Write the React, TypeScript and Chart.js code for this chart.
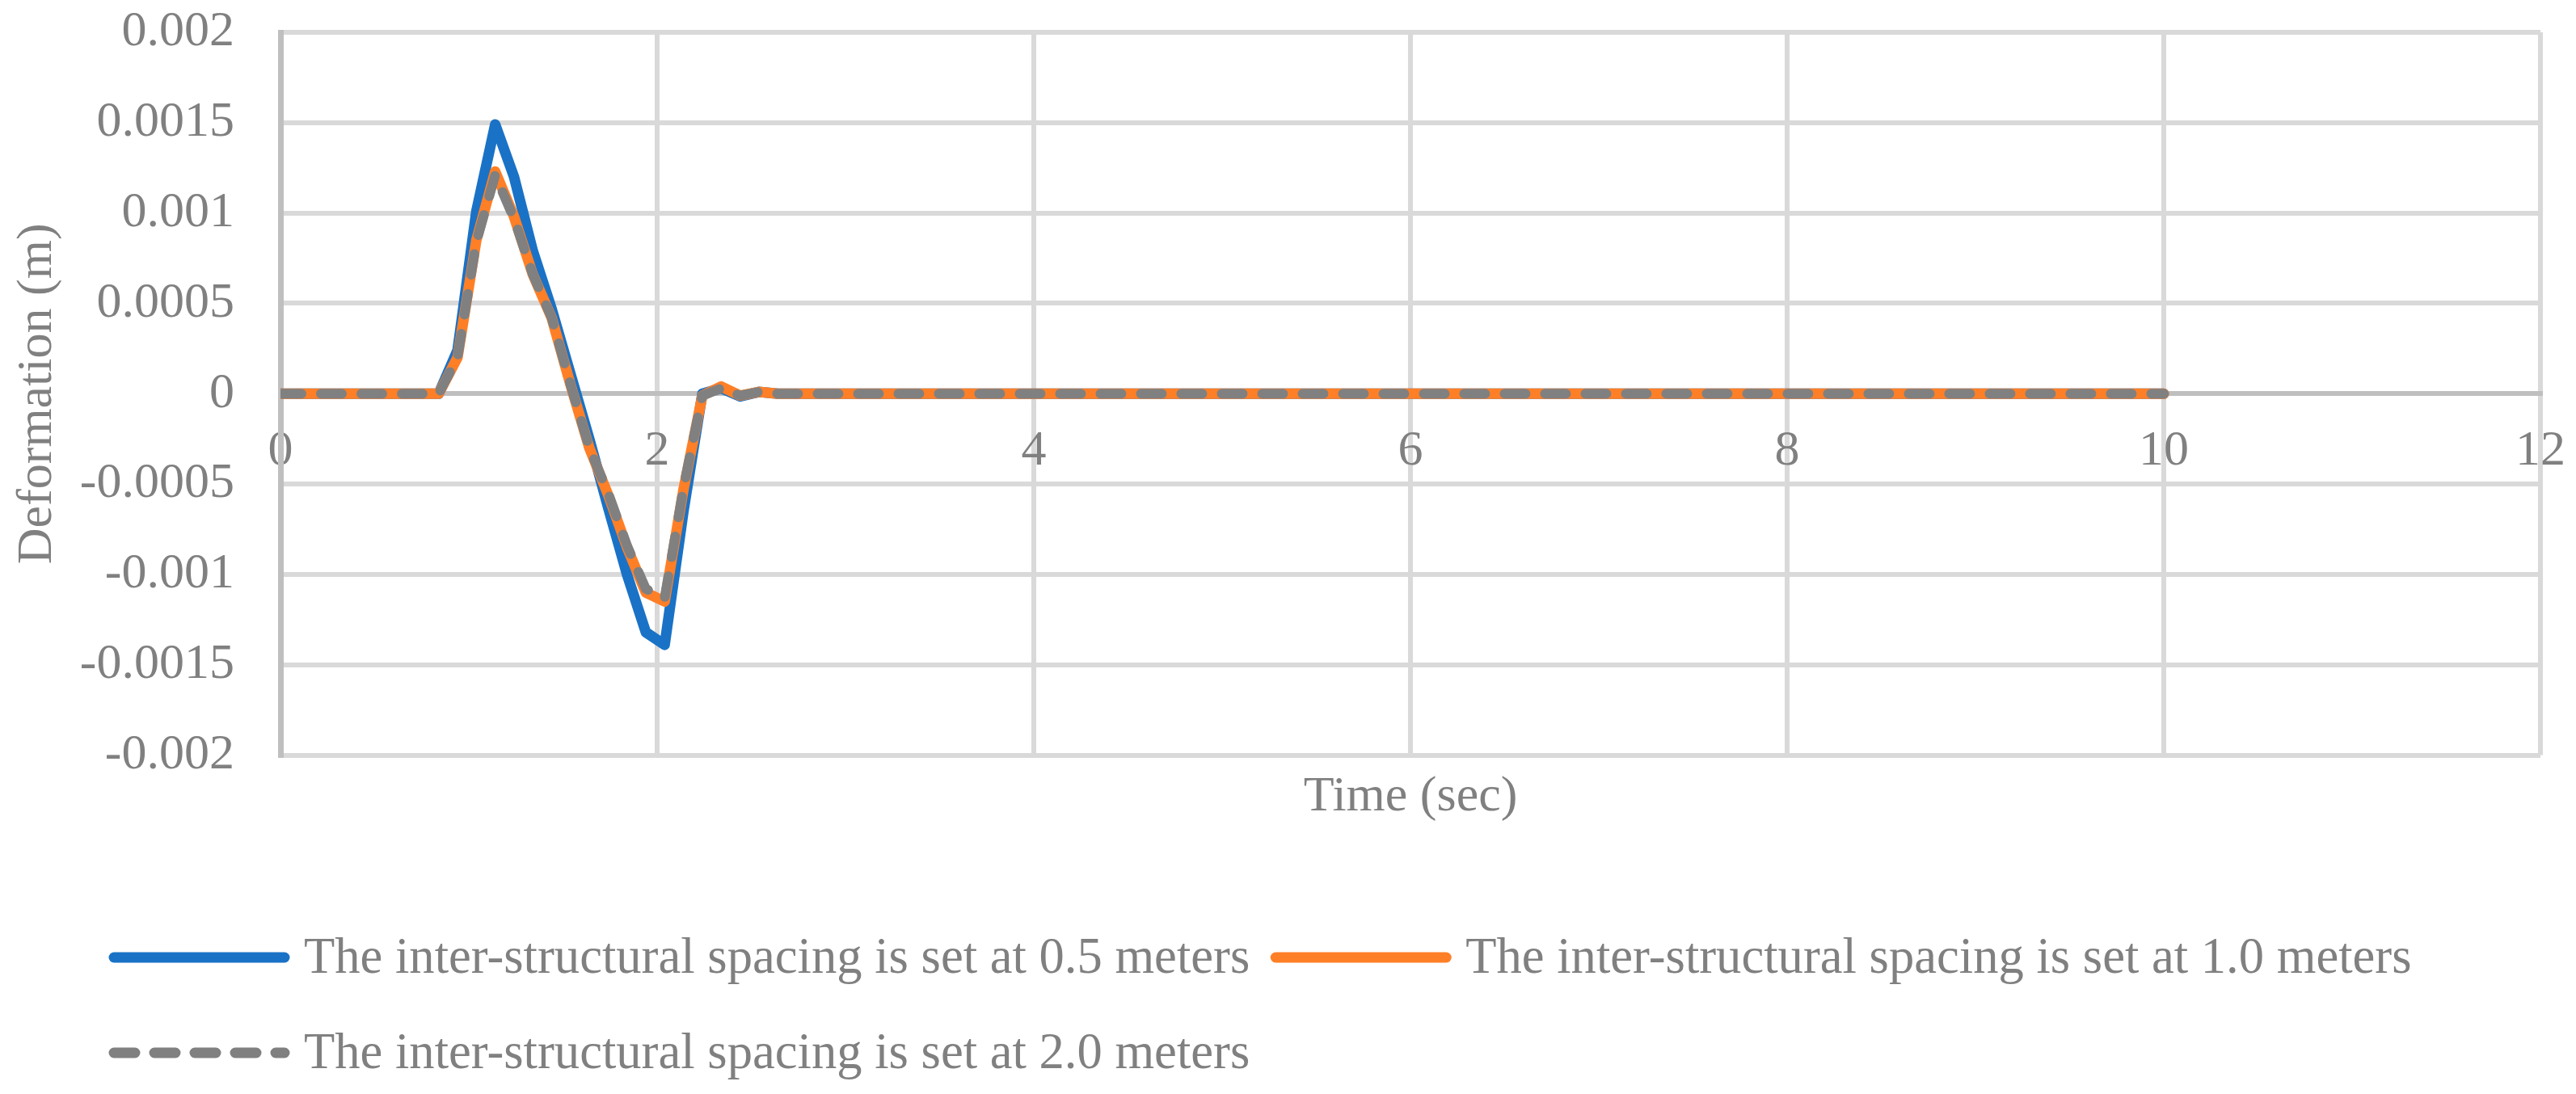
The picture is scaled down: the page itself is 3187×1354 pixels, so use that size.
import React, { useEffect, useRef } from "react";
import { Chart, registerables } from "chart.js";

Chart.register(...registerables);

// ---- data ----
const timeSec = [0, 0.84, 0.94, 1.04, 1.14, 1.24, 1.34, 1.44, 1.54, 1.64, 1.74, 1.84, 1.94, 2.04, 2.14, 2.24, 2.34, 2.44, 2.54, 2.64, 2.74, 2.84, 2.94, 10];
const spacing05m = [0, 0, 0.00024, 0.00101, 0.00149, 0.0012, 0.00079, 0.00047, 0.00011, -0.00025, -0.00063, -0.001, -0.00132, -0.00139, -0.00065, 0, 0.00003, -0.000015, 0.00001, 0, 0, 0, 0, 0];
const spacing10m = [0, 0, 0.0002, 0.00085, 0.00123, 0.00098, 0.00066, 0.00042, 0.00005, -0.0003, -0.00056, -0.00085, -0.0011, -0.00115, -0.00053, -0.00001, 0.00004, -0.00001, 0.00001, 0, 0, 0, 0, 0];
const spacing20m = [0, 0, 0.0002, 0.00084, 0.00121, 0.00097, 0.00066, 0.00042, 0.00005, -0.0003, -0.00055, -0.00084, -0.00108, -0.00113, -0.00052, -0.00001, 0.00003, -0.00001, 0.00001, 0, 0, 0, 0, 0];
const seriesLabels = [
  "The inter-structural spacing is set at 0.5 meters",
  "The inter-structural spacing is set at 1.0 meters",
  "The inter-structural spacing is set at 2.0 meters",
];
const xMin = 0, xMax = 12, xStep = 2;
const yMin = -0.002, yMax = 0.002, yStep = 0.0005;
const xTitle = "Time (sec)";
const yTitle = "Deformation (m)";

// ---- styles ----
const FONT = "'Liberation Serif', 'Times New Roman', serif";
const TEXT = "#808080";
const GRID = "#D9D9D9";
const AXIS = "#BFBFBF";
const BLUE = "#1A72C6";
const ORANGE = "#FF7F27";
const GRAY = "#808080";
const FS = 62;
const LEGEND_FS = 62.6;

const pts = (ys: number[]) => timeSec.map((t, i) => ({ x: t, y: ys[i] }));

const legendPlugin = {
  id: "excelLegend",
  afterDraw(chart: any) {
    const ctx = chart.ctx as CanvasRenderingContext2D;
    const rows = [[0, 1], [2]];
    const lineY = [1185, 1303];
    const baseY = [1204, 1322];
    ctx.save();
    ctx.font = `${LEGEND_FS}px ${FONT}`;
    ctx.textAlign = "left";
    ctx.textBaseline = "alphabetic";
    rows.forEach((row, r) => {
      let x = 135;
      row.forEach((i) => {
        const ds = chart.data.datasets[i];
        ctx.save();
        ctx.strokeStyle = ds.borderColor;
        ctx.lineWidth = 13;
        ctx.lineCap = "round";
        ctx.setLineDash(ds.borderDash || []);
        ctx.beginPath();
        ctx.moveTo(x + 6, lineY[r]);
        ctx.lineTo(x + 217, lineY[r]);
        ctx.stroke();
        ctx.restore();
        x += 223 + 18;
        ctx.fillStyle = TEXT;
        ctx.fillText(ds.label, x, baseY[r]);
        x += ctx.measureText(ds.label).width + 26;
      });
    });
    ctx.restore();
  },
};

export default function App() {
  const ref = useRef<HTMLCanvasElement>(null);
  useEffect(() => {
    document.body.style.margin = "0";
    document.body.style.overflow = "hidden";
    const fmt = (v: any) => String(Math.round(Number(v) * 1e6) / 1e6);
    const chart = new Chart(ref.current as HTMLCanvasElement, {
      type: "line",
      data: {
        datasets: [
          {
            label: seriesLabels[0],
            data: pts(spacing05m),
            borderColor: BLUE,
            backgroundColor: BLUE,
            borderWidth: 13,
            pointRadius: 0,
            tension: 0,
            borderCapStyle: "round",
            borderJoinStyle: "round",
            order: 3,
          },
          {
            label: seriesLabels[1],
            data: pts(spacing10m),
            borderColor: ORANGE,
            backgroundColor: ORANGE,
            borderWidth: 13,
            pointRadius: 0,
            tension: 0,
            borderCapStyle: "round",
            borderJoinStyle: "round",
            order: 2,
          },
          {
            label: seriesLabels[2],
            data: pts(spacing20m),
            borderColor: GRAY,
            backgroundColor: GRAY,
            borderWidth: 12,
            borderDash: [26, 24],
            pointRadius: 0,
            tension: 0,
            borderCapStyle: "round",
            borderJoinStyle: "round",
            order: 1,
          },
        ],
      } as any,
      options: {
        responsive: false,
        animation: false,
        devicePixelRatio: 1,
        layout: { padding: { left: 0, right: 44, top: 40, bottom: 330 } },
        plugins: { legend: { display: false }, tooltip: { enabled: false } },
        scales: {
          x: {
            type: "linear",
            axis: "x",
            position: { y: 0 },
            min: xMin,
            max: xMax,
            ticks: {
              stepSize: xStep,
              padding: 34,
              color: TEXT,
              font: { family: FONT, size: FS },
              maxRotation: 0,
              callback: (v: any) => fmt(v),
            },
            grid: {
              color: (c: any) => (c.tick && c.tick.value === 0 ? AXIS : GRID),
              lineWidth: 6,
              drawTicks: false,
            },
            border: { display: true, color: AXIS, width: 6 },
            afterFit: (s: any) => {
              s.height = 0;
              s.paddingLeft = 0;
              s.paddingRight = 0;
            },
          },
          xTitle: {
            type: "linear",
            axis: "x",
            position: "bottom",
            min: xMin,
            max: xMax,
            ticks: { display: false },
            grid: { display: false, drawTicks: false },
            border: { display: false },
            title: {
              display: true,
              text: xTitle,
              color: TEXT,
              font: { family: FONT, size: FS },
              padding: { top: 15, bottom: 0 },
            },
            afterFit: (s: any) => {
              s.paddingLeft = 0;
              s.paddingRight = 0;
            },
          },
          y: {
            type: "linear",
            position: "left",
            min: yMin,
            max: yMax,
            ticks: {
              stepSize: yStep,
              padding: 57,
              color: TEXT,
              font: { family: FONT, size: FS },
              callback: (v: any) => fmt(v),
            },
            grid: {
              color: (c: any) => (c.tick && Math.abs(c.tick.value) < 1e-9 ? AXIS : GRID),
              lineWidth: 6,
              drawTicks: false,
            },
            border: { display: true, color: AXIS, width: 7 },
            title: {
              display: true,
              text: yTitle,
              color: TEXT,
              font: { family: FONT, size: FS },
              padding: { top: 10, bottom: 0 },
            },
            afterFit: (s: any) => {
              s.width = 347;
              s.paddingTop = 0;
              s.paddingBottom = 0;
            },
          },
        },
      } as any,
      plugins: [legendPlugin],
    });
    return () => chart.destroy();
  }, []);
  return (
    <div style={{ position: "fixed", left: 0, top: 0, width: 3187, height: 1354, background: "#fff" }}>
      <canvas ref={ref} width={3187} height={1354} style={{ display: "block", width: 3187, height: 1354 }} />
    </div>
  );
}
